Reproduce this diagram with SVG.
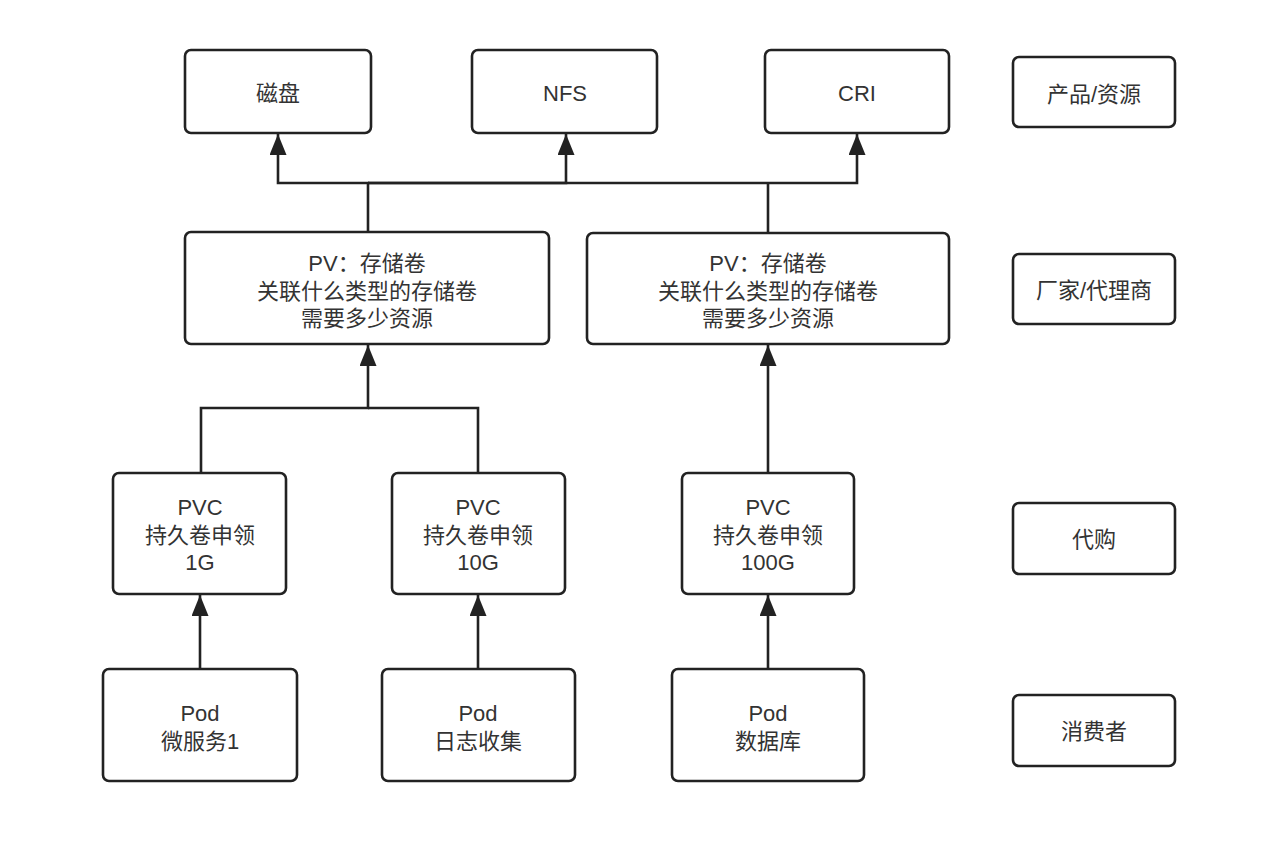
<svg xmlns="http://www.w3.org/2000/svg" width="1284" height="844" viewBox="0 0 1284 844">
<style>
.box{fill:#fff;stroke:#222;stroke-width:2.6}
.t{font-family:"Liberation Sans","Noto Sans CJK SC",sans-serif;font-size:22px;fill:#333;text-anchor:middle;dominant-baseline:central}
.c{fill:none;stroke:#222;stroke-width:2.6}
</style>
<defs>
<marker id="ah" markerUnits="userSpaceOnUse" markerWidth="22" markerHeight="18" refX="21" refY="8.5" orient="auto">
<path d="M0,0 L21,8.5 L0,17 z" fill="#222"/>
</marker>
</defs>
<rect width="1284" height="844" fill="#fff"/>
<g id="connectors">
<path class="c" d="M368,232 V183 H278 V134" marker-end="url(#ah)"/>
<path class="c" d="M368,183 H566 V134" marker-end="url(#ah)"/>
<path class="c" d="M368,183 H857 V134" marker-end="url(#ah)"/>
<path class="c" d="M768,233 V183"/>
<path class="c" d="M201,473 V408 H368 V345" marker-end="url(#ah)"/>
<path class="c" d="M478,473 V408 H368"/>
<path class="c" d="M768,473 V345" marker-end="url(#ah)"/>
<path class="c" d="M200,669 V595" marker-end="url(#ah)"/>
<path class="c" d="M478,669 V595" marker-end="url(#ah)"/>
<path class="c" d="M768,669 V595" marker-end="url(#ah)"/>
</g>
<g id="disk"><rect class="box" x="185" y="50" width="186" height="83" rx="6"/><text class="t" x="278" y="93">磁盘</text></g>
<g id="nfs"><rect class="box" x="472" y="50" width="185" height="83" rx="6"/><text class="t" x="565" y="93">NFS</text></g>
<g id="cri"><rect class="box" x="765" y="50" width="184" height="83" rx="6"/><text class="t" x="857" y="93">CRI</text></g>
<g id="pv1"><rect class="box" x="185" y="232" width="364" height="112" rx="6"/>
<text class="t" x="367" y="263">PV：存储卷</text><text class="t" x="367" y="291">关联什么类型的存储卷</text><text class="t" x="367" y="318">需要多少资源</text></g>
<g id="pv2"><rect class="box" x="587" y="233" width="362" height="111" rx="6"/>
<text class="t" x="768" y="263">PV：存储卷</text><text class="t" x="768" y="291">关联什么类型的存储卷</text><text class="t" x="768" y="318">需要多少资源</text></g>
<g id="pvc1"><rect class="box" x="113" y="473" width="173" height="121" rx="6"/>
<text class="t" x="200" y="507">PVC</text><text class="t" x="200" y="535">持久卷申领</text><text class="t" x="200" y="562">1G</text></g>
<g id="pvc2"><rect class="box" x="392" y="473" width="173" height="121" rx="6"/>
<text class="t" x="478" y="507">PVC</text><text class="t" x="478" y="535">持久卷申领</text><text class="t" x="478" y="562">10G</text></g>
<g id="pvc3"><rect class="box" x="682" y="473" width="172" height="121" rx="6"/>
<text class="t" x="768" y="507">PVC</text><text class="t" x="768" y="535">持久卷申领</text><text class="t" x="768" y="562">100G</text></g>
<g id="pod1"><rect class="box" x="103" y="669" width="194" height="112" rx="6"/>
<text class="t" x="200" y="713">Pod</text><text class="t" x="200" y="741">微服务1</text></g>
<g id="pod2"><rect class="box" x="382" y="669" width="193" height="112" rx="6"/>
<text class="t" x="478" y="713">Pod</text><text class="t" x="478" y="741">日志收集</text></g>
<g id="pod3"><rect class="box" x="672" y="669" width="192" height="112" rx="6"/>
<text class="t" x="768" y="713">Pod</text><text class="t" x="768" y="741">数据库</text></g>
<g id="lbl1"><rect class="box" x="1013" y="57" width="162" height="70" rx="6"/><text class="t" x="1094" y="94">产品/资源</text></g>
<g id="lbl2"><rect class="box" x="1013" y="254" width="162" height="70" rx="6"/><text class="t" x="1094" y="290">厂家/代理商</text></g>
<g id="lbl3"><rect class="box" x="1013" y="503" width="162" height="71" rx="6"/><text class="t" x="1094" y="539">代购</text></g>
<g id="lbl4"><rect class="box" x="1013" y="695" width="162" height="71" rx="6"/><text class="t" x="1094" y="731">消费者</text></g>
</svg>
